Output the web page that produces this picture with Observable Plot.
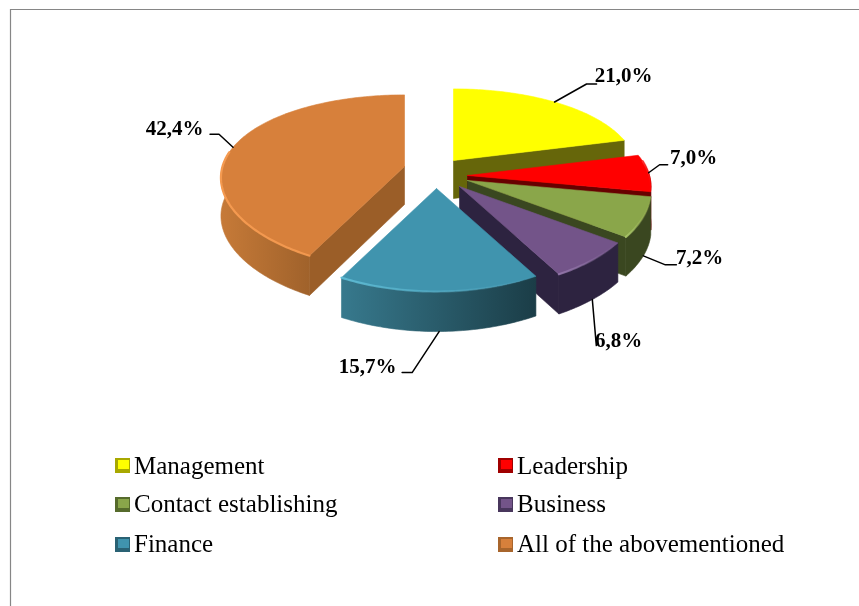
<!DOCTYPE html>
<html>
<head>
<meta charset="utf-8">
<style>
html,body{margin:0;padding:0;background:#fff}
svg{display:block;filter:blur(0.35px)}
</style>
<script src="https://cdn.jsdelivr.net/npm/d3@7"></script>
<script src="https://cdn.jsdelivr.net/npm/@observablehq/plot@0.6"></script>
</head>
<body>
<div id="chart"></div>
<script>
// data
const categories = ["Management","Leadership","Contact establishing","Business","Finance","All of the abovementioned"];
const shares = [21.0,7.0,7.2,6.8,15.7,42.4];
const valueLabels = ["21,0%","7,0%","7,2%","6,8%","15,7%","42,4%"];

// slice styling and layout (pixel scales are identity)
const topColors  = ["#ffff00","#ff0000","#8aa64a","#735489","#4094ae","#d7803b"];
const sideColors = ["#66660a","#680000","#3a4720","#2d2340","#1f4854","#9b5e28"];
const keyEdges   = ["#a8a800","#a00000","#566b2c","#48365c","#2a6274","#a8652c"];
const rimLeft    = ["#66660a","#680000","#3a4720","#2d2340","#37798d","#c67a38"];
const rimRight   = ["#66660a","#680000","#3a4720","#2d2340","#1b3d47","#a0622b"];
const glow       = ["#ffff00","#ff3030","#a9c668","#9478ab","#5fbdd6","#f59a50"];
const apexX = [453,467,467,459,436,404];
const apexY = [160,175,180,186,188,166];
const elbows = [[32,-18,42,-18],[11,-8,19,-8],[22,9,33,9],[4,46,4,46],[-27,41,-37,41],[-14,-13,-23,-13]];
const labelAt = [[623,75],[693,157],[699,257],[618,340],[367,366],[174,128]];
const drawOrder = [0,1,2,3,5,4];

const R = 182, A = 84.5, K = 0.18, KX = 0.13;
const total = d3.sum(shares);
const cum = d3.cumsum(shares);
const startA = i => (i ? cum[i-1] : 0) / total * 360;
const endA = i => cum[i] / total * 360;
function project(i, deg, level) {
  const t = deg * Math.PI / 180, u = Math.sin(t), v = -Math.cos(t);
  return {x: apexX[i] + R * u / (1 - KX * v), y: apexY[i] + A * v / (1 - K * v) + level * (38 + 2 * v)};
}
const apex = (i, level) => ({x: apexX[i], y: apexY[i] + level * 38});
function arc(i, a0, a1, level) {
  const n = Math.max(2, Math.ceil(Math.abs(a1 - a0)));
  return d3.range(n + 1).map(j => project(i, a0 + (a1 - a0) * j / n, level));
}
const poly = (pts, fill) => Plot.line(pts, {x: "x", y: "y", fill, stroke: fill, strokeWidth: 0.6});

const defs = [];
const marks = [];
// frame
marks.push(Plot.ruleX([10], {y1: 9, y2: 606, stroke: "#868686", strokeWidth: 1.2}));
marks.push(Plot.ruleY([9], {x1: 10, x2: 859, stroke: "#868686", strokeWidth: 1.2}));

for (const i of drawOrder) {
  const a0 = startA(i), a1 = endA(i);
  const r0 = Math.max(a0, 80), r1 = Math.min(a1, 280);
  // cut faces that look toward the viewer
  if (Math.sin(a1 * Math.PI / 180) > 0.01) {
    const e = project(i, a1, 0), f = project(i, a1, 1);
    marks.push(poly([apex(i,0), e, f, apex(i,1), apex(i,0)], sideColors[i]));
  }
  if (Math.sin(a0 * Math.PI / 180) < -0.01) {
    const e = project(i, a0, 0), f = project(i, a0, 1);
    marks.push(poly([apex(i,0), e, f, apex(i,1), apex(i,0)], sideColors[i]));
  }
  // outer rim
  if (r1 > r0) {
    const topArc = arc(i, r0, r1, 0), lowArc = arc(i, r1, r0, 1);
    const xs = topArc.map(d => d.x), xL = d3.min(xs), xR = d3.max(xs);
    defs.push({id: "rim" + i, xL, xR, c0: rimLeft[i], c1: rimRight[i], o0: 1, o1: 1});
    marks.push(poly([...topArc, ...lowArc, topArc[0]], `url(#rim${i})`));
  }
  // top surface
  marks.push(poly([apex(i,0), ...arc(i, a0, a1, 0), apex(i,0)], topColors[i]));
  // bevel highlight on the front edge
  if (r1 > r0 && i !== 0) {
    const edge = arc(i, r0, r1, 0), xs = edge.map(d => d.x);
    defs.push({id: "glow" + i, xL: d3.min(xs), xR: d3.max(xs),
      c0: glow[i], c1: glow[i], o0: i === 5 ? 1 : 0.9, o1: i === 5 ? 0.9 : 0});
    marks.push(Plot.line(edge, {x: "x", y: "y", stroke: `url(#glow${i})`, strokeWidth: 2.2}));
  }
}

// leaders and value labels
shares.forEach((_, i) => {
  const mid = (startA(i) + endA(i)) / 2;
  const level = (mid > 100 && mid < 270) ? 1 : 0;
  const p = project(i, mid, level), [a, b, c, d] = elbows[i];
  marks.push(Plot.line([{x: p.x, y: p.y}, {x: p.x + a, y: p.y + b}, {x: p.x + c, y: p.y + d}],
    {x: "x", y: "y", stroke: "#000", strokeWidth: 1.5}));
});
marks.push(Plot.text(valueLabels, {
  x: (_, i) => labelAt[i][0], y: (_, i) => labelAt[i][1], text: d => d,
  fontFamily: "Liberation Serif", fontWeight: "bold", fontSize: 21, fill: "#000"
}));

// legend
const legendX = [115, 498], legendY = [458, 497, 537];
categories.forEach((name, i) => {
  const col = i % 2, row = (i - col) / 2, x0 = legendX[col], y0 = legendY[row];
  marks.push(Plot.rect([0], {x1: x0, x2: x0 + 15, y1: y0, y2: y0 + 15, fill: keyEdges[i]}));
  marks.push(Plot.rect([0], {x1: x0 + 3, x2: x0 + 14, y1: y0 + 2, y2: y0 + 11, fill: topColors[i]}));
});
marks.push(Plot.text(categories, {
  x: (_, i) => legendX[i % 2] + 18.5,
  y: (_, i) => legendY[(i - i % 2) / 2] + (i < 2 ? 7 : 6),
  text: d => d, textAnchor: "start",
  fontFamily: "Liberation Serif", fontSize: 25, fill: "#000"
}));

marks.unshift(() => {
  const el = d3.create("svg:defs");
  for (const g of defs) {
    const lg = el.append("linearGradient").attr("id", g.id).attr("gradientUnits", "userSpaceOnUse")
      .attr("x1", g.xL).attr("x2", g.xR).attr("y1", 0).attr("y2", 0);
    lg.append("stop").attr("offset", 0).attr("stop-color", g.c0).attr("stop-opacity", g.o0);
    lg.append("stop").attr("offset", 1).attr("stop-color", g.c1).attr("stop-opacity", g.o1);
  }
  return el.node();
});

const chart = Plot.plot({
  width: 859, height: 606, margin: 0,
  x: {domain: [0, 859], range: [0, 859], axis: null},
  y: {domain: [0, 606], range: [0, 606], axis: null},
  style: {background: "#fff"},
  marks
});
document.getElementById("chart").append(chart);
</script>
</body>
</html>
